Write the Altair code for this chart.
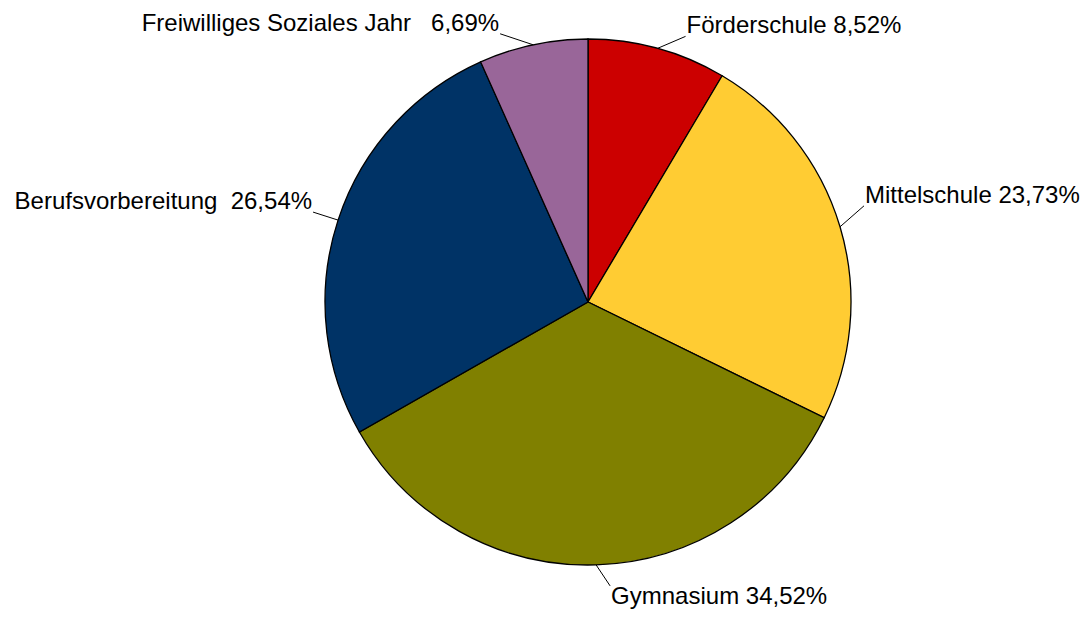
import math
import altair as alt
import pandas as pd

categories = ["Förderschule", "Mittelschule", "Gymnasium", "Berufsvorbereitung", "Freiwilliges Soziales Jahr"]
values = [8.52, 23.73, 34.52, 26.54, 6.69]
value_labels = ["8,52%", "23,73%", "34,52%", "26,54%", "6,69%"]
gaps = [" ", " ", " ", "\u00a0 ", "\u00a0\u00a0 "]
colors = ["#CC0000", "#FFCC33", "#808000", "#003366", "#996699"]

# layout of the label leader lines (pixel offsets from the slice edge)
leader_dx = [28, 24, 14, -25, -33]
leader_dy = [-12, -21, 21, -8, -11]

W, H = 1074, 602
CX, CY = 580, 294
R = 263

rows = []
cum = 0.0
total = sum(values)
for i, (c, v, lab, g) in enumerate(zip(categories, values, value_labels, gaps)):
    mid = (cum + v / 2) / total * 2 * math.pi
    cum += v
    s, co = math.sin(mid), math.cos(mid)
    x1, y1 = CX + R * s, CY - R * co
    x2, y2 = x1 + leader_dx[i], y1 + leader_dy[i]
    if co < -0.9:
        pos = "bottom"
    elif s < 0:
        pos = "left"
    else:
        pos = "right"
    ty = y2 + (18 if pos == "bottom" else -3)
    rows.append(dict(idx=i, cat=c, value=v, label=c + g + lab,
                     x1=x1, y1=y1, x2=x2, y2=y2, ty=ty, pos=pos))
df = pd.DataFrame(rows)

xs = alt.Scale(domain=[0, W], range=[0, W])
ys = alt.Scale(domain=[0, H], range=[0, H])

pie = alt.Chart(df).mark_arc(outerRadius=R, stroke="black", strokeWidth=1.3).encode(
    theta=alt.Theta("value:Q", stack=True),
    order=alt.Order("idx:Q"),
    color=alt.Color("cat:N", scale=alt.Scale(domain=categories, range=colors), legend=None),
    x=alt.value(CX),
    y=alt.value(CY),
)

leaders = alt.Chart(df).mark_rule(color="black", strokeWidth=1).encode(
    x=alt.X("x1:Q", scale=xs, axis=None),
    y=alt.Y("y1:Q", scale=ys, axis=None),
    x2="x2:Q",
    y2="y2:Q",
)

font = "Liberation Sans"
fs = 24
base = alt.Chart(df).encode(
    x=alt.X("x2:Q", scale=xs, axis=None),
    y=alt.Y("ty:Q", scale=ys, axis=None),
    text="label:N",
)
t_right = base.mark_text(align="left", baseline="alphabetic", dx=1,
                         font=font, fontSize=fs, color="black").transform_filter(
    (alt.datum.pos == "right") | (alt.datum.pos == "bottom"))
t_left = base.mark_text(align="right", baseline="alphabetic", dx=-1,
                        font=font, fontSize=fs, color="black").transform_filter(alt.datum.pos == "left")

chart = alt.layer(pie, leaders, t_right, t_left).properties(
    width=W, height=H, autosize=alt.AutoSizeParams(type="none"), padding=0
).configure_view(stroke=None)

chart.save("out.html", embed_options={"renderer": "svg", "actions": False})
